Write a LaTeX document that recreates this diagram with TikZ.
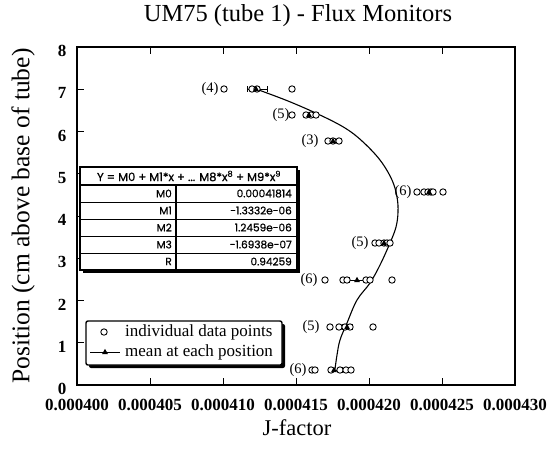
\documentclass[tikz,border=0pt]{standalone}
\usepackage{fontspec}
\setmainfont{Liberation Serif}
\newfontfamily\tabfont[FakeBold=0.8]{Poppins}
\tikzset{
  frame/.style={line width=1.3pt},
  tick/.style={line width=1pt},
  datapt/.style={draw=black, line width=0.9pt, fill=white},
  fitcurve/.style={line width=1.1pt},
  errbar/.style={line width=0.9pt},
  ticklbl/.style={font=\bfseries\fontsize{17}{19}\selectfont, inner sep=0pt},
  cntlbl/.style={font=\fontsize{14.5}{16}\selectfont, inner sep=0pt},
  tabtxt/.style={font=\tabfont\fontsize{10.5}{12}\selectfont, inner sep=0pt},
  legtxt/.style={font=\fontsize{17}{19}\selectfont, inner sep=0pt, anchor=west},
}
\newcommand\datapt[2]{\draw[datapt] (#1,#2) circle (3.2);}
\newcommand\meanpt[2]{\fill (#1,#2) +(0,-3.2) -- +(2.9,2) -- +(-2.9,2) -- cycle;}
\newcommand\errbar[3]{\draw[errbar] (#1,#3) -- (#2,#3) (#1,#3-3) -- (#1,#3+3) (#2,#3-3) -- (#2,#3+3);}
\begin{document}
\begin{tikzpicture}[x=1pt,y=-1pt]
\useasboundingbox (0,0) rectangle (551,451);

% title and axis titles
\node[font=\fontsize{24.5}{28}\selectfont] (title) at (298,16) {UM75 (tube 1) - Flux Monitors};
\node[font=\fontsize{22.5}{26}\selectfont] (xlabel) at (297,428) {J-factor};
\node[font=\fontsize{25.5}{28}\selectfont, rotate=90] (ylabel) at (23,216) {Position (cm above base of tube)};

% plot frame
\draw[frame] (77,47) rectangle (515,385);

% x ticks (bottom and top) and labels
\foreach \xv/\lab [count=\i] in {77/0.000400,150/0.000405,223/0.000410,296/0.000415,369/0.000420,442/0.000425,515/0.000430}{
  \node[ticklbl] (xt\i) at (\xv,405) {\lab};
}
\foreach \xv in {150,223,296,369,442}{
  \draw[tick] (\xv,385) -- (\xv,378);
  \draw[tick] (\xv,47) -- (\xv,54);
}
% y ticks and labels
\foreach \k in {0,...,8}{
  \node[ticklbl] (yt\k) at (62,{385-42.25*\k+4}) {\k};
}
\foreach \k in {1,...,7}{
  \draw[tick] (77,{385-42.25*\k}) -- (84,{385-42.25*\k});
}

% polynomial fit through the column
\draw[fitcurve] plot[smooth, tension=0.6] coordinates {
  (256,89) (288,101) (320,115) (345,128) (362,141) (380,160) (392,180)
  (397,197) (398,212) (396,227) (390,243) (380,265) (370,283) (357,300)
  (347,323) (340,340) (337,355) (335,369)};

% error bars of the means
\errbar{247}{267}{89}
\errbar{426}{433}{192}
\errbar{378}{391}{243}
\errbar{349}{365}{280}
\errbar{342}{352}{327}
\errbar{331}{342}{370}

% individual measurements, with the number of points per position
\node[cntlbl] (n1) at (210,89) {(4)};
\foreach \xv in {224,252,257,292}{\datapt{\xv}{89}}
\meanpt{256}{89}

\node[cntlbl] (n2) at (281,115) {(5)};
\foreach \xv in {292,306,311,316}{\datapt{\xv}{115}}
\meanpt{309}{115}

\node[cntlbl] (n3) at (310,141) {(3)};
\foreach \xv in {328,333,339}{\datapt{\xv}{141}}
\meanpt{333}{141}

\node[cntlbl] (n4) at (403,192) {(6)};
\foreach \xv in {417,424,428,431,433,443}{\datapt{\xv}{192}}
\meanpt{429}{192}

\node[cntlbl] (n5) at (360,243) {(5)};
\foreach \xv in {375,379,384,387,390}{\datapt{\xv}{243}}
\meanpt{384}{243}

\node[cntlbl] (n6) at (309,280) {(6)};
\foreach \xv in {325,343,347,366,370,392}{\datapt{\xv}{280}}
\meanpt{357}{280}

\node[cntlbl] (n7) at (311,327) {(5)};
\foreach \xv in {330,339,345,350,373}{\datapt{\xv}{327}}
\meanpt{347}{327}

\node[cntlbl] (n8) at (298,370) {(6)};
\foreach \xv in {312,315,331,340,346,351}{\datapt{\xv}{370}}
\meanpt{334}{370}

% fit parameter table
\fill (83,170) rectangle (300,273);
\draw[line width=1.6pt, fill=white] (80,167) rectangle (297,270);
\node[tabtxt, font=\tabfont\fontsize{11.5}{13}\selectfont] (thead) at (189,176) {Y = M0 + M1*x + ... M8*x\textsuperscript{8} + M9*x\textsuperscript{9}};
\draw[line width=1.4pt] (80,185) -- (297,185);
\foreach \yv in {202,219,236,253}{\draw[line width=0.9pt] (80,\yv) -- (297,\yv);}
\draw[line width=1.2pt] (176,185) -- (176,270);
\foreach \nm/\val/\yc [count=\i] in {M0/0.00041814/193.5, M1/-1.3332e-06/210.5, M2/1.2459e-06/227.5, M3/-1.6938e-07/244.5, R/0.94259/261.5}{
  \node[tabtxt, anchor=east] (tn\i) at (172,\yc) {\nm};
  \node[tabtxt, anchor=east] (tv\i) at (292,\yc) {\val};
}

% legend
\fill[rounded corners=2pt] (89,324) rectangle (285,368);
\draw[line width=1.4pt, fill=white, rounded corners=2pt] (86,321) rectangle (282,365);
\datapt{104}{332}
\node[legtxt] (leg1) at (125,332) {individual data points};
\draw[line width=1pt] (90,352) -- (120,352);
\meanpt{105}{352}
\node[legtxt] (leg2) at (125,352) {mean at each position};
\end{tikzpicture}
\end{document}
